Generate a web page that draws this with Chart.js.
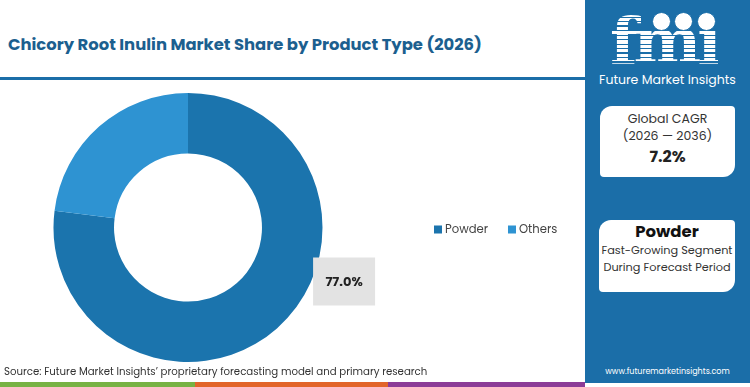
<!DOCTYPE html>
<html><head><meta charset="utf-8">
<script src="https://cdn.jsdelivr.net/npm/chart.js@4"></script>
<style>
html,body{margin:0;padding:0;width:750px;height:387px;overflow:hidden;background:#fff;font-family:Poppins,"Inter","Open Sans",sans-serif;}
#left{position:absolute;left:0;top:0;width:585px;height:387px;background:#fff;}
#title{position:absolute;left:8px;top:32px;font-size:16.4px;font-weight:700;color:#1c5f8f;white-space:nowrap;}
#tline{position:absolute;left:0;top:77px;width:585px;height:3px;background:#1b6ea8;}
#right{position:absolute;left:585px;top:0;width:165px;height:383px;background:#1b6ea8;}
#cw{position:absolute;left:0;top:80px;width:585px;height:300px;}
#source{position:absolute;left:4px;top:364px;font-size:10.2px;color:#333;white-space:nowrap;}
.bar{position:absolute;top:382px;height:5px;}
.card{position:absolute;left:600px;width:135px;background:#fff;border-radius:12px 4px 12px 4px;text-align:center;color:#333;line-height:1.35;}
#logo{position:absolute;left:610px;top:9px;line-height:1;font-family:"DejaVu Serif",serif;font-weight:700;font-size:64px;letter-spacing:-4px;
 background:repeating-linear-gradient(#fff 0 3px, rgba(255,255,255,0) 3px 4.5px);-webkit-background-clip:text;background-clip:text;color:transparent;}
.dot{position:absolute;width:17px;height:17px;border-radius:50%;background:#fff;top:12px;border:1.5px solid #1b6ea8;}
#fmitxt{position:absolute;left:585px;width:165px;top:71px;text-align:center;color:#fff;font-size:12.5px;}
#web{position:absolute;left:585px;width:165px;top:366px;text-align:center;color:#fff;font-size:8px;}
</style></head>
<body>
<div id="left"></div>
<div id="title">Chicory Root Inulin Market Share by Product Type (2026)</div>
<div id="tline"></div>
<div id="right"></div>
<div id="logo">fmi</div>
<div class="dot" style="left:652px"></div>
<div class="dot" style="left:674px"></div>
<div class="dot" style="left:697px"></div>
<div id="fmitxt">Future Market Insights</div>
<div class="card" style="top:106px;height:71px;">
 <div style="font-size:12.5px;margin-top:5px;">Global CAGR</div>
 <div style="font-size:12.5px;margin-top:0px;">(2026 — 2036)</div>
 <div style="font-size:16px;font-weight:700;margin-top:1px;color:#222;">7.2%</div>
</div>
<div class="card" style="top:220px;height:72px;left:599px;width:136px;">
 <div style="font-size:16.5px;font-weight:700;margin-top:1px;color:#111;">Powder</div>
 <div style="font-size:11.3px;margin-top:0px;white-space:nowrap;">Fast-Growing Segment</div>
 <div style="font-size:11.3px;margin-top:1px;white-space:nowrap;">During Forecast Period</div>
</div>
<div id="web">www.futuremarketinsights.com</div>
<div id="cw"><canvas id="c" width="585" height="300"></canvas></div>
<div id="source">Source: Future Market Insights’ proprietary forecasting model and primary research</div>
<div class="bar" style="left:0;width:195px;background:#77b244"></div>
<div class="bar" style="left:195px;width:193px;background:#e2652a"></div>
<div class="bar" style="left:388px;width:197px;background:#8c3c97"></div>
<script>
const categories = ["Powder", "Others"];
const shares = [77.0, 23.0];
const colors = ["#1b74ad", "#2e93d2"];

const extras = {
  id: "extras",
  afterDraw(chart) {
    const ctx = chart.ctx;
    const arc = chart.getDatasetMeta(0).data[0];
    const bx = arc.x + arc.outerRadius * 0.93, by = arc.y + 30;
    ctx.save();
    ctx.fillStyle = "#e3e3e3";
    ctx.fillRect(bx, by, 62, 48);
    ctx.fillStyle = "#222";
    ctx.font = "bold 13px Poppins, Inter, sans-serif";
    ctx.textAlign = "center"; ctx.textBaseline = "middle";
    ctx.fillText(shares[0].toFixed(1) + "%", bx + 31, by + 25);
    let lx = 434, ly = arc.y + 2;
    ctx.font = "11.6px Poppins, Inter, sans-serif";
    ctx.textAlign = "left";
    categories.forEach((c, i) => {
      ctx.fillStyle = colors[i];
      ctx.fillRect(lx, ly - 4, 8, 8);
      ctx.fillStyle = "#444";
      ctx.fillText(c, lx + 11, ly + 1);
      lx += 11 + ctx.measureText(c).width + 20;
    });
    ctx.restore();
  }
};

new Chart(document.getElementById("c"), {
  type: "doughnut",
  data: { labels: categories, datasets: [{ data: shares, backgroundColor: colors, borderWidth: 0 }] },
  options: {
    responsive: false, animation: false, cutout: "55%",
    layout: { padding: { left: 53, top: 13, right: 262, bottom: 18 } },
    plugins: { legend: { display: false }, tooltip: { enabled: false } }
  },
  plugins: [extras]
});
</script>
</body></html>
